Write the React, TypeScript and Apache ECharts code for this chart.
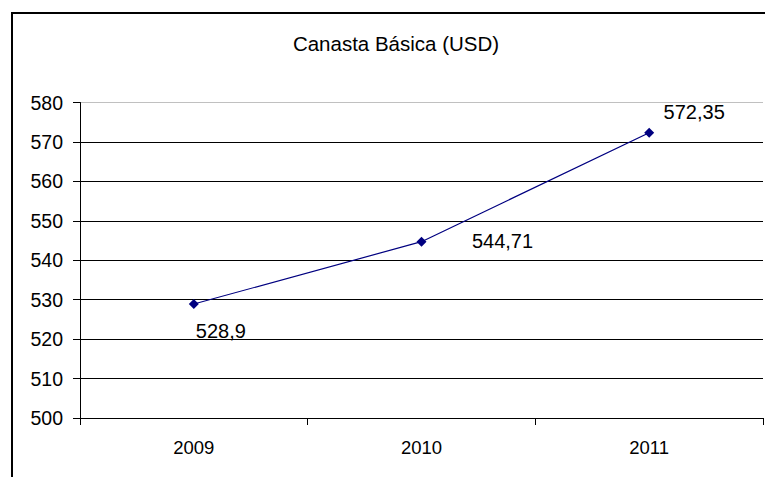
import React, { useEffect, useRef } from "react";
import * as echarts from "echarts";

const categories = ["2009", "2010", "2011"];
const values = [528.9, 544.71, 572.35];
const valueLabels = ["528,9", "544,71", "572,35"];
const labelOffsets = [
  [27, 27],
  [81, -1],
  [45, -21],
];
const titleText = "Canasta Básica (USD)";
const yMin = 500;
const yMax = 580;
const yStep = 10;

const FONT = "'Liberation Sans', Arial, sans-serif";

export default function App() {
  const ref = useRef<HTMLDivElement>(null);
  useEffect(() => {
    if (!ref.current) return;
    const chart = echarts.init(ref.current, undefined, { renderer: "svg" });
    const nSplit = (yMax - yMin) / yStep + 1;
    const splitColors = Array.from({ length: nSplit }, (_, i) => (i === nSplit - 1 ? "#c0c0c0" : "#000000"));
    chart.setOption({
      animation: false,
      backgroundColor: "#ffffff",
      textStyle: { fontFamily: FONT },
      graphic: [
        {
          type: "rect",
          shape: { x: 12, y: 13, width: 800, height: 500 },
          style: { fill: "none", stroke: "#000000", lineWidth: 2 },
          silent: true,
        },
        {
          type: "text",
          x: 396,
          y: 43,
          style: {
            text: titleText,
            fontFamily: FONT,
            fontSize: 20.5,
            fill: "#000000",
            textAlign: "center",
            textVerticalAlign: "middle",
          },
        },
      ],
      grid: { left: 80, right: 2, top: 102.5, bottom: 59, containLabel: false },
      xAxis: {
        type: "category",
        data: categories,
        boundaryGap: true,
        axisLine: { lineStyle: { color: "#000000", width: 1 } },
        axisTick: { show: true, alignWithLabel: false, length: 7, lineStyle: { color: "#000000" } },
        axisLabel: { color: "#000000", fontSize: 18.5, fontFamily: FONT, margin: 20 },
        splitLine: { show: false },
      },
      yAxis: {
        type: "value",
        min: yMin,
        max: yMax,
        interval: yStep,
        axisLine: { show: true, lineStyle: { color: "#000000", width: 1 } },
        axisTick: { show: true, length: 7, lineStyle: { color: "#000000" } },
        axisLabel: { color: "#000000", fontSize: 19.5, fontFamily: FONT, margin: 17 },
        splitLine: { show: true, lineStyle: { color: splitColors, width: 1 } },
      },
      series: [
        {
          type: "line",
          data: values.map((v, i) => ({
            value: v,
            label: {
              show: true,
              position: "inside",
              offset: labelOffsets[i],
              formatter: valueLabels[i],
              align: "center",
              verticalAlign: "middle",
              color: "#000000",
              fontSize: 20,
              fontFamily: FONT,
            },
          })),
          symbol: "diamond",
          symbolSize: 10,
          showSymbol: true,
          itemStyle: { color: "#000080" },
          lineStyle: { color: "#000080", width: 1.2 },
        },
      ],
    });
    return () => chart.dispose();
  }, []);
  return (
    <div
      ref={ref}
      style={{ position: "absolute", left: 0, top: 0, width: 765, height: 477, background: "#fff" }}
    />
  );
}
